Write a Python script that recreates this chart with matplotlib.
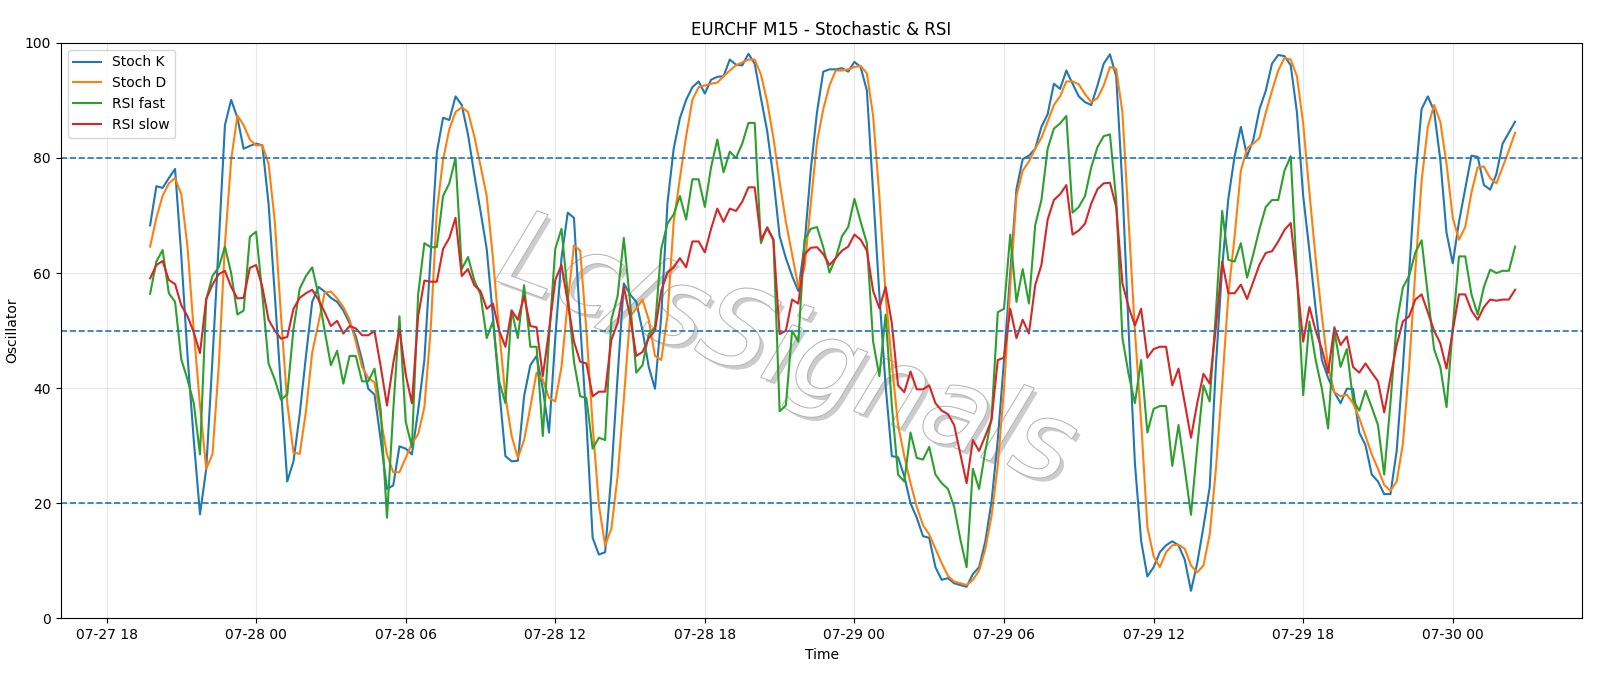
import numpy as np
import pandas as pd
import matplotlib
matplotlib.use("Agg")
import matplotlib.pyplot as plt
import matplotlib.dates as mdates
import matplotlib.patheffects as pe

# EURCHF M15, first valid bar 07-27 19:45
start = "2025-07-27 19:45"

stoch_k = [
    68.3, 75.1, 74.8, 76.5, 78.1, 63.0, 45.6, 31.0, 18.1, 26.0,
    45.0, 65.0, 85.7, 90.1, 87.0, 81.6, 82.1, 82.5, 82.2, 72.1,
    56.3, 39.9, 23.8, 27.3, 35.5, 45.6, 55.0, 57.6, 56.8, 55.7,
    55.0, 53.5, 51.3, 49.0, 44.9, 39.9, 38.9, 31.0, 22.5, 23.1,
    29.9, 29.5, 28.5, 36.1, 44.9, 63.0, 81.0, 87.0, 86.6, 90.7,
    89.2, 84.1, 77.2, 70.8, 64.2, 52.5, 39.9, 28.2, 27.3, 27.4,
    38.6, 44.0, 45.6, 39.9, 32.3, 48.7, 62.6, 70.5, 69.6, 51.3,
    34.2, 14.0, 11.1, 11.5, 25.0, 42.0, 58.2, 56.3, 55.0, 50.0,
    43.7, 39.9, 52.5, 72.1, 81.6, 86.9, 90.1, 92.3, 93.3, 91.2,
    93.6, 94.1, 94.2, 97.1, 96.2, 96.1, 98.1, 96.4, 90.4, 84.7,
    76.5, 66.4, 62.6, 59.5, 56.9, 65.0, 78.0, 88.0, 95.0, 95.4,
    95.4, 95.6, 95.0, 96.7, 95.8, 91.7, 74.0, 56.3, 40.5, 28.2,
    28.0, 24.7, 20.0, 17.5, 14.3, 14.0, 8.9, 6.7, 7.0, 6.1,
    5.8, 5.5, 7.7, 8.9, 13.4, 20.3, 31.0, 44.9, 60.1, 74.6,
    79.8, 80.4, 81.6, 85.4, 87.6, 92.9, 92.0, 95.2, 92.9, 90.7,
    89.7, 89.2, 92.6, 96.4, 98.0, 94.2, 75.0, 50.0, 27.0, 13.5,
    7.3, 8.9, 11.5, 12.7, 13.4, 12.7, 10.2, 4.8, 9.6, 15.9,
    22.8, 44.0, 61.0, 73.0, 80.3, 85.4, 80.3, 83.2, 88.5, 91.7,
    96.4, 97.9, 97.7, 96.1, 87.9, 73.4, 63.9, 53.8, 44.9, 41.8,
    39.3, 37.4, 39.9, 39.9, 32.3, 30.1, 25.0, 23.8, 21.6, 21.6,
    29.1, 43.7, 60.0, 76.5, 88.5, 90.7, 88.2, 79.7, 67.0, 61.7,
    68.9, 74.6, 80.4, 80.2, 75.3, 74.5, 77.2, 82.5, 84.4, 86.3,
]

stoch_d = [
    64.6, 69.6, 73.4, 75.6, 76.5, 73.7, 64.5, 50.0, 37.0, 26.0,
    28.5, 43.7, 65.0, 79.7, 87.4, 85.7, 83.2, 82.2, 82.2, 79.0,
    69.0, 52.5, 37.4, 28.8, 28.6, 36.0, 46.2, 51.3, 56.6, 56.8,
    55.6, 54.1, 51.9, 48.1, 43.7, 41.8, 41.0, 34.8, 28.5, 25.4,
    25.4, 27.9, 30.4, 32.0, 36.7, 50.0, 70.8, 79.7, 85.0, 88.0,
    88.8, 88.0, 83.8, 78.7, 73.4, 62.6, 50.0, 38.6, 31.7, 27.9,
    31.0, 36.7, 42.7, 41.5, 38.3, 37.7, 43.7, 55.0, 64.8, 63.9,
    50.0, 33.6, 19.7, 12.7, 15.6, 24.7, 38.0, 52.5, 53.8, 55.4,
    51.9, 45.6, 44.9, 52.5, 68.9, 76.5, 83.8, 90.1, 92.3, 92.6,
    92.9, 93.1, 94.2, 95.2, 96.1, 96.6, 97.1, 97.1, 94.5, 89.8,
    83.5, 75.9, 68.9, 63.3, 57.6, 61.0, 72.1, 82.8, 88.5, 92.6,
    95.2, 95.2, 95.4, 95.8, 96.0, 94.7, 87.3, 73.4, 56.3, 44.3,
    33.6, 28.2, 23.5, 19.4, 16.2, 14.6, 12.1, 9.6, 7.4, 6.4,
    6.1, 5.8, 6.7, 8.3, 12.1, 17.8, 26.6, 39.9, 57.6, 73.4,
    77.8, 79.4, 81.6, 83.5, 86.3, 89.2, 90.7, 93.3, 93.3, 92.8,
    91.1, 89.7, 90.4, 92.6, 95.8, 95.5, 87.9, 68.9, 50.0, 34.2,
    15.9, 10.8, 8.9, 11.5, 12.7, 12.8, 12.1, 9.2, 8.0, 9.2,
    14.6, 26.0, 40.5, 56.3, 66.4, 77.8, 81.7, 82.5, 83.5, 87.9,
    91.7, 95.2, 97.4, 97.1, 94.2, 86.0, 74.0, 62.6, 52.5, 43.7,
    39.3, 38.6, 38.9, 37.4, 34.8, 31.7, 28.5, 26.0, 23.2, 22.2,
    23.8, 30.4, 43.7, 60.5, 76.0, 85.4, 89.2, 86.3, 79.0, 69.6,
    65.8, 68.0, 74.0, 78.4, 78.5, 76.5, 75.6, 78.4, 81.3, 84.4,
]

rsi_fast = [
    56.4, 62.0, 64.0, 56.5, 55.0, 45.0, 41.5, 37.4, 28.5, 55.4,
    59.5, 61.0, 64.6, 60.0, 52.8, 53.5, 66.3, 67.2, 56.3, 44.3,
    41.5, 38.0, 38.9, 50.3, 57.3, 59.5, 61.0, 56.3, 50.0, 44.0,
    46.5, 40.8, 45.6, 45.6, 41.2, 41.2, 43.4, 36.1, 17.5, 36.1,
    52.5, 34.2, 29.8, 56.3, 65.2, 64.5, 64.5, 73.4, 75.6, 80.0,
    60.7, 62.8, 58.8, 56.3, 48.7, 51.6, 41.2, 37.4, 53.5, 48.7,
    57.9, 47.2, 47.2, 31.7, 48.7, 64.2, 67.7, 56.3, 44.6, 38.6,
    38.3, 29.5, 31.4, 31.0, 51.9, 56.0, 66.1, 55.0, 42.7, 44.0,
    49.4, 50.6, 64.2, 68.6, 70.2, 73.4, 69.3, 76.3, 76.3, 71.5,
    78.4, 83.2, 77.5, 81.1, 80.0, 82.5, 86.1, 86.1, 65.2, 68.0,
    65.8, 36.0, 37.0, 50.0, 48.1, 65.8, 67.7, 68.0, 64.5, 60.1,
    62.6, 66.4, 68.0, 72.9, 68.9, 65.2, 48.1, 42.1, 52.8, 37.0,
    25.0, 23.8, 32.3, 27.9, 27.6, 29.8, 25.0, 23.5, 22.5, 19.4,
    13.7, 8.9, 26.0, 22.5, 29.1, 34.8, 53.2, 53.8, 66.7, 55.0,
    60.7, 54.7, 68.3, 72.7, 81.6, 85.1, 86.0, 87.3, 70.5, 71.5,
    73.4, 78.4, 81.9, 83.8, 84.1, 72.7, 48.7, 42.4, 37.4, 44.9,
    32.3, 36.4, 36.9, 36.9, 26.5, 33.6, 26.0, 18.0, 29.8, 40.5,
    37.7, 53.2, 70.8, 62.3, 62.0, 65.2, 59.2, 63.3, 67.7, 71.5,
    72.7, 72.7, 77.8, 80.3, 59.5, 38.8, 51.6, 44.9, 39.9, 33.0,
    50.0, 43.7, 46.8, 38.0, 36.1, 39.6, 36.7, 33.6, 25.0, 37.4,
    51.3, 57.5, 59.5, 63.6, 65.7, 56.3, 46.8, 43.7, 36.7, 50.6,
    62.9, 62.9, 56.3, 52.8, 57.6, 60.6, 60.0, 60.4, 60.4, 64.6,
]

rsi_slow = [
    59.1, 61.4, 62.1, 58.8, 58.1, 54.4, 52.5, 49.7, 46.1, 55.5,
    58.0, 59.8, 60.4, 57.6, 55.6, 55.7, 60.9, 61.4, 57.6, 51.9,
    50.0, 48.6, 48.9, 53.8, 55.7, 56.5, 57.1, 55.4, 53.2, 50.8,
    51.7, 49.5, 50.8, 50.4, 49.2, 49.2, 49.9, 43.7, 37.0, 44.3,
    50.3, 42.4, 37.4, 52.5, 58.7, 58.5, 58.5, 64.2, 66.1, 69.6,
    59.5, 60.7, 57.9, 56.9, 53.8, 54.7, 50.0, 47.2, 53.5, 51.9,
    56.0, 50.8, 50.6, 42.1, 50.0, 58.8, 61.4, 55.0, 48.1, 44.6,
    44.3, 38.6, 39.4, 39.4, 48.4, 51.3, 57.6, 52.5, 45.6, 46.3,
    48.7, 50.0, 56.9, 60.1, 61.0, 62.6, 61.0, 65.5, 65.5, 63.6,
    67.7, 71.2, 68.9, 71.2, 70.8, 72.4, 74.9, 74.9, 65.8, 67.8,
    65.8, 49.4, 50.0, 55.4, 54.7, 63.3, 64.4, 64.5, 63.3, 61.4,
    62.6, 63.9, 64.6, 66.7, 65.8, 63.9, 56.9, 53.9, 57.6, 51.3,
    40.5, 39.3, 42.9, 39.8, 39.8, 40.5, 37.4, 36.1, 35.5, 33.6,
    28.5, 23.5, 31.0, 29.1, 31.7, 34.5, 44.9, 45.3, 53.8, 48.7,
    51.9, 49.5, 57.9, 61.4, 69.3, 72.7, 73.7, 75.3, 66.7, 67.4,
    68.6, 72.1, 74.6, 75.6, 75.7, 71.5, 58.2, 54.1, 50.9, 53.8,
    45.3, 46.8, 47.2, 47.2, 40.5, 43.4, 37.4, 31.4, 37.4, 42.5,
    40.8, 50.6, 62.0, 56.5, 56.5, 58.0, 55.5, 58.5, 61.5, 63.5,
    63.8, 65.5, 67.5, 68.7, 58.8, 48.1, 54.1, 50.0, 46.8, 42.7,
    50.6, 47.5, 49.0, 43.7, 42.7, 44.3, 42.7, 41.2, 35.8, 41.8,
    47.5, 51.6, 52.5, 55.4, 56.3, 53.2, 50.0, 47.8, 43.4, 50.0,
    56.3, 56.3, 53.5, 51.9, 54.1, 55.4, 55.2, 55.4, 55.4, 57.1,
]

times = pd.date_range(start, periods=len(stoch_k), freq="15min")

fig, ax = plt.subplots(figsize=(16, 6.86), dpi=100)
fig.subplots_adjust(left=0.038, right=0.989, top=0.9375, bottom=0.0985)

ax.plot(times, stoch_k, label="Stoch K", linewidth=1.5)
ax.plot(times, stoch_d, label="Stoch D", linewidth=1.5)
ax.plot(times, rsi_fast, label="RSI fast", linewidth=1.5)
ax.plot(times, rsi_slow, label="RSI slow", linewidth=1.5)

for lvl in (80, 50, 20):
    ax.axhline(lvl, linestyle="--", linewidth=1.2, color="tab:blue")

# watermark: hollow-looking grey letters with a soft shadow
ax.text(0.477, 0.46, "Lc/sSignals", transform=ax.transAxes, fontsize=78,
        style="italic", fontweight="light", color="white",
        rotation=-20, ha="center", va="center", zorder=0,
        path_effects=[pe.SimplePatchShadow(offset=(3, -3), shadow_rgbFace="#9a9a9a", alpha=0.5),
                      pe.withStroke(linewidth=1.5, foreground="#b5b5b5")])

ax.set_ylim(0, 100)
ax.set_xlim(pd.Timestamp("2025-07-27 16:10"), pd.Timestamp("2025-07-30 05:12"))
ax.xaxis.set_major_locator(mdates.HourLocator(byhour=[0, 6, 12, 18]))
ax.xaxis.set_major_formatter(mdates.DateFormatter("%m-%d %H"))
ax.grid(True, alpha=0.3)
ax.set_title("EURCHF M15 - Stochastic & RSI")
ax.set_xlabel("Time")
ax.set_ylabel("Oscillator")
ax.legend(loc="upper left")

plt.savefig("out.png")
